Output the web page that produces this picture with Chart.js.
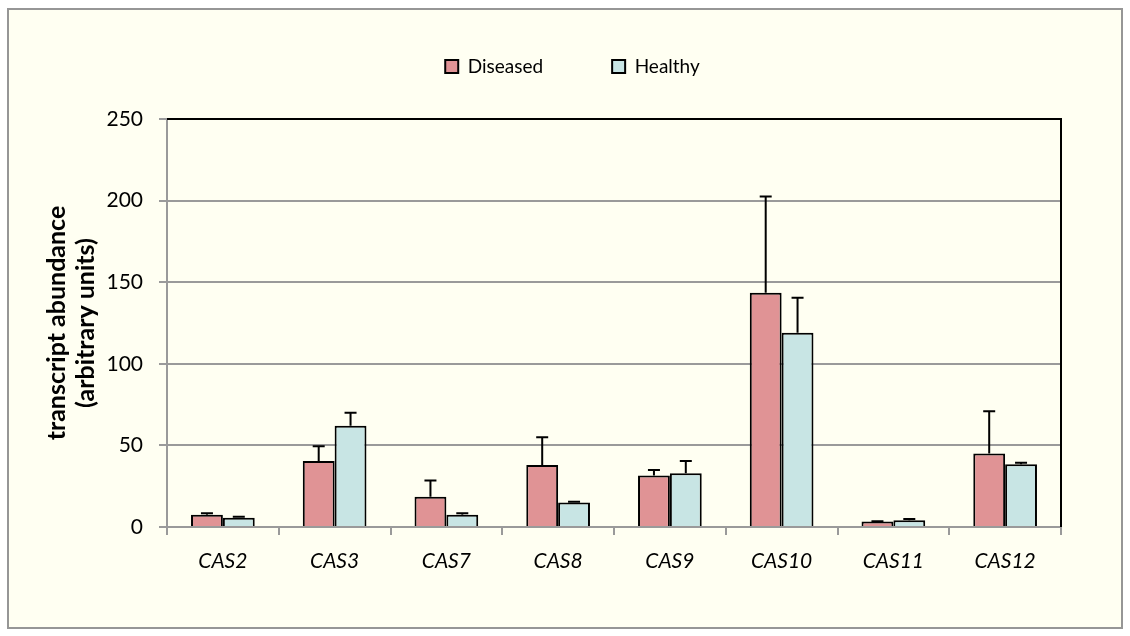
<!DOCTYPE html>
<html>
<head>
<meta charset="utf-8">
<title>CAS transcript abundance</title>
<script src="https://cdn.jsdelivr.net/npm/chart.js@4/dist/chart.umd.min.js"></script>
<style>
  body { margin: 0; background: #ffffff; }
  #frame {
    position: absolute; left: 7px; top: 8px;
    width: 1116px; height: 621px; box-sizing: border-box;
    border: 2px solid #969696; background: #fffff2;
  }
  #myChart { position: absolute; left: 0; top: 0; }
</style>
</head>
<body>
<div id="frame"></div>
<canvas id="myChart" width="1130" height="636"></canvas>
<script>
//////////////// DATA /////////////////////////////////
var genes = ["CAS2", "CAS3", "CAS7", "CAS8", "CAS9", "CAS10", "CAS11", "CAS12"];
var diseased = [7.5, 40.5, 18.5, 38, 31.5, 143.5, 3.3, 45];
var diseasedErr = [1, 9, 10, 17, 3.5, 59, 0.2, 26];
var healthy = [5.7, 62, 7.5, 15, 33, 119, 4.2, 38.5];
var healthyErr = [0.6, 8, 1, 0.5, 7.5, 21.5, 0.7, 0.8];
var yTicks = [0, 50, 100, 150, 200, 250];

var FONT = "Lato, 'Open Sans', sans-serif";
var GREY = "#9a9a9a";

//////////////// PLUGINS /////////////////////////////////
// error bars (upwards only) drawn from the bar elements + y scale
var errorBars = {
  id: "errorBars",
  afterDatasetsDraw: function(chart) {
    var ctx = chart.ctx;
    var y = chart.scales.y;
    ctx.save();
    ctx.strokeStyle = "#000";
    ctx.lineWidth = 2;
    chart.data.datasets.forEach(function(ds, di) {
      var meta = chart.getDatasetMeta(di);
      meta.data.forEach(function(bar, i) {
        var top = y.getPixelForValue(ds.data[i] + ds.errors[i]);
        ctx.beginPath();
        ctx.moveTo(bar.x, bar.y);
        ctx.lineTo(bar.x, top);
        ctx.moveTo(bar.x - 6, top);
        ctx.lineTo(bar.x + 6, top);
        ctx.stroke();
      });
    });
    ctx.restore();
  }
};

// black plot border on top and right, like the spreadsheet original
var plotBorder = {
  id: "plotBorder",
  beforeDatasetsDraw: function(chart) {
    var a = chart.chartArea, ctx = chart.ctx;
    ctx.save();
    ctx.strokeStyle = "#000";
    ctx.lineWidth = 2;
    ctx.beginPath();
    ctx.moveTo(a.left, a.top);
    ctx.lineTo(a.right, a.top);
    ctx.lineTo(a.right, a.bottom);
    ctx.stroke();
    ctx.restore();
  }
};

// nudge the legend row up and to the right
var legendShift = {
  id: "legendShift",
  afterLayout: function(chart) {
    var lg = chart.legend;
    lg.left += 42; lg.right += 42;
    lg.top -= 33; lg.bottom -= 33;
  }
};

//////////////// CHART /////////////////////////////////
var ctx = document.getElementById("myChart").getContext("2d");
var chart = new Chart(ctx, {
  type: "bar",
  data: {
    labels: genes,
    datasets: [{
      label: "Diseased",
      data: diseased,
      errors: diseasedErr,
      backgroundColor: "#e09395",
      borderColor: "#000",
      borderWidth: 2
    }, {
      label: "Healthy",
      data: healthy,
      errors: healthyErr,
      backgroundColor: "#c8e5e4",
      borderColor: "#000",
      borderWidth: 2
    }]
  },
  options: {
    responsive: false,
    animation: false,
    categoryPercentage: 0.57,
    barPercentage: 1,
    layout: { padding: { left: 0, right: 69, top: 21, bottom: 0 } },
    plugins: {
      tooltip: { enabled: false },
      legend: {
        position: "top",
        labels: {
          color: "#000",
          font: { family: FONT, size: 19 },
          boxWidth: 13,
          boxHeight: 13,
          padding: 69
        }
      }
    },
    scales: {
      x: {
        grid: { drawOnChartArea: false, drawTicks: true, tickLength: 8, color: GREY, lineWidth: 2 },
        border: { color: GREY, width: 2 },
        ticks: { color: "#000", padding: 14, font: { family: FONT, size: 21, style: "italic" } },
        afterFit: function(scale) { scale.height = 109; }
      },
      y: {
        min: 0,
        max: 250,
        afterBuildTicks: function(scale) {
          scale.ticks = yTicks.map(function(v) { return { value: v }; });
        },
        grid: { color: GREY, lineWidth: 2, tickLength: 8 },
        border: { color: GREY, width: 2 },
        ticks: { color: "#000", padding: 16, font: { family: FONT, size: 21 } },
        title: {
          display: true,
          text: ["transcript abundance", "(arbitrary units)"],
          color: "#000",
          font: { family: FONT, size: 25, weight: "bold", lineHeight: 1.16 },
          padding: { top: 42, bottom: 0 }
        },
        afterFit: function(scale) { scale.width = 167; }
      }
    }
  },
  plugins: [errorBars, plotBorder, legendShift]
});
</script>
</body>
</html>
